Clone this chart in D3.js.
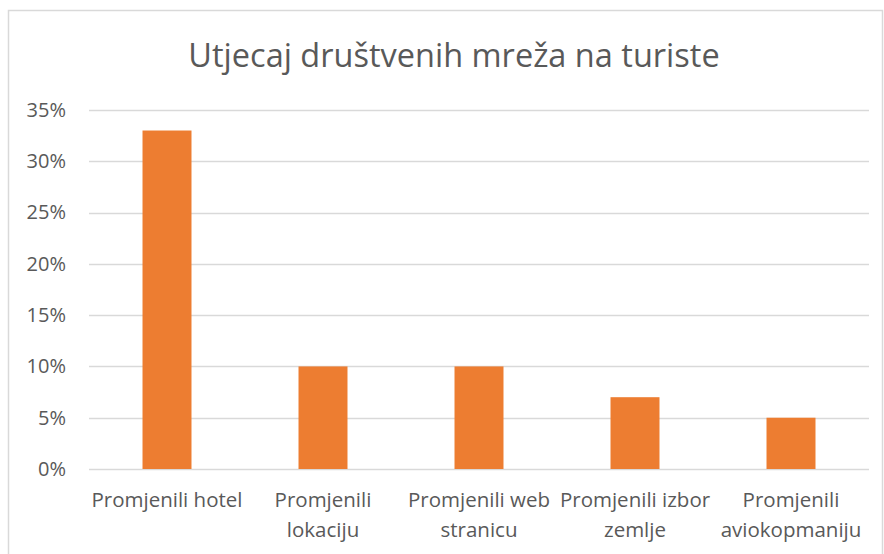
<!DOCTYPE html>
<html>
<head>
<meta charset="utf-8">
<script src="https://cdn.jsdelivr.net/npm/d3@7"></script>
<style>
  body { margin: 0; background: #fff; }
  text { font-family: "Open Sans", sans-serif; fill: #595959; }
</style>
</head>
<body>
<div id="chart-div"></div>
<script>
// chart data
const TITLE = "Utjecaj društvenih mreža na turiste";
const CATEGORIES = ["Promjenili hotel", "Promjenili lokaciju", "Promjenili web stranicu", "Promjenili izbor zemlje", "Promjenili aviokopmaniju"];
// how the category labels wrap on the axis
const CATEGORY_LINES = [
  ["Promjenili hotel"],
  ["Promjenili", "lokaciju"],
  ["Promjenili web", "stranicu"],
  ["Promjenili izbor", "zemlje"],
  ["Promjenili", "aviokopmaniju"],
];
const VALUES = [0.33, 0.10, 0.10, 0.07, 0.05];
const Y_TICKS = [0, 0.05, 0.10, 0.15, 0.20, 0.25, 0.30, 0.35];

// sizes
const WIDTH = 884;
const HEIGHT = 554;
const MARGIN = { left: 89, right: 15, top: 110, bottom: 85 };
const BAR_COLOR = "#ED7D31";
const GRID_COLOR = "#D9D9D9";

setup();

function setup() {
  let svg = d3
    .select("#chart-div")
    .append("svg")
    .attr("width", WIDTH)
    .attr("height", HEIGHT);

  // outer chart border
  svg.append("rect")
    .attr("x", 8.5)
    .attr("y", 10.5)
    .attr("width", 874)
    .attr("height", 560)
    .attr("fill", "none")
    .attr("stroke", GRID_COLOR)
    .attr("stroke-width", 1.5);

  svg.append("text")
    .attr("x", 454)
    .attr("y", 67)
    .attr("text-anchor", "middle")
    .style("font-size", "32.5px")
    .text(TITLE);

  let xScale = d3
    .scaleBand()
    .domain(CATEGORIES)
    .range([MARGIN.left, WIDTH - MARGIN.right])
    .paddingInner(0.686)
    .paddingOuter(0.343);

  let yScale = d3
    .scaleLinear()
    .domain([0, 0.35])
    .range([HEIGHT - MARGIN.bottom, MARGIN.top]);

  // gridlines
  svg.append("g")
    .attr("class", "grid")
    .selectAll("line")
    .data(Y_TICKS)
    .join("line")
    .attr("x1", MARGIN.left)
    .attr("x2", WIDTH - MARGIN.right)
    .attr("y1", (d) => Math.round(yScale(d)) + 0.5)
    .attr("y2", (d) => Math.round(yScale(d)) + 0.5)
    .attr("stroke", GRID_COLOR)
    .attr("stroke-width", 1.5);

  // y axis labels
  let yAxis = d3.axisLeft(yScale)
    .tickValues(Y_TICKS)
    .tickFormat(d3.format(".0%"))
    .tickSize(0)
    .tickPadding(23);

  svg.append("g")
    .attr("class", "y-axis")
    .attr("transform", `translate(${MARGIN.left}, 0)`)
    .call(yAxis)
    .call((g) => g.select(".domain").remove())
    .selectAll("text")
    .style("font-size", "20px")
    .attr("fill", "#595959");

  // bars
  svg.append("g")
    .attr("class", "bar-chart")
    .selectAll("rect")
    .data(VALUES)
    .join("rect")
    .attr("x", (d, i) => xScale(CATEGORIES[i]))
    .attr("y", (d) => yScale(d))
    .attr("width", xScale.bandwidth())
    .attr("height", (d) => yScale(0) - yScale(d))
    .attr("fill", BAR_COLOR);

  // x axis labels, wrapped
  let xAxis = d3.axisBottom(xScale).tickSize(0).tickFormat("");
  let xg = svg.append("g")
    .attr("class", "x-axis")
    .attr("transform", `translate(0, ${HEIGHT - MARGIN.bottom})`)
    .call(xAxis)
    .call((g) => g.select(".domain").remove());

  xg.selectAll(".tick").each(function (d, i) {
    let t = d3.select(this).select("text")
      .attr("y", 0)
      .attr("dy", null)
      .style("font-size", "20.5px")
      .attr("fill", "#595959");
    CATEGORY_LINES[i].forEach((line, k) => {
      t.append("tspan")
        .attr("x", 0)
        .attr("y", 38 + k * 30)
        .text(line);
    });
  });
}
</script>
</body>
</html>
